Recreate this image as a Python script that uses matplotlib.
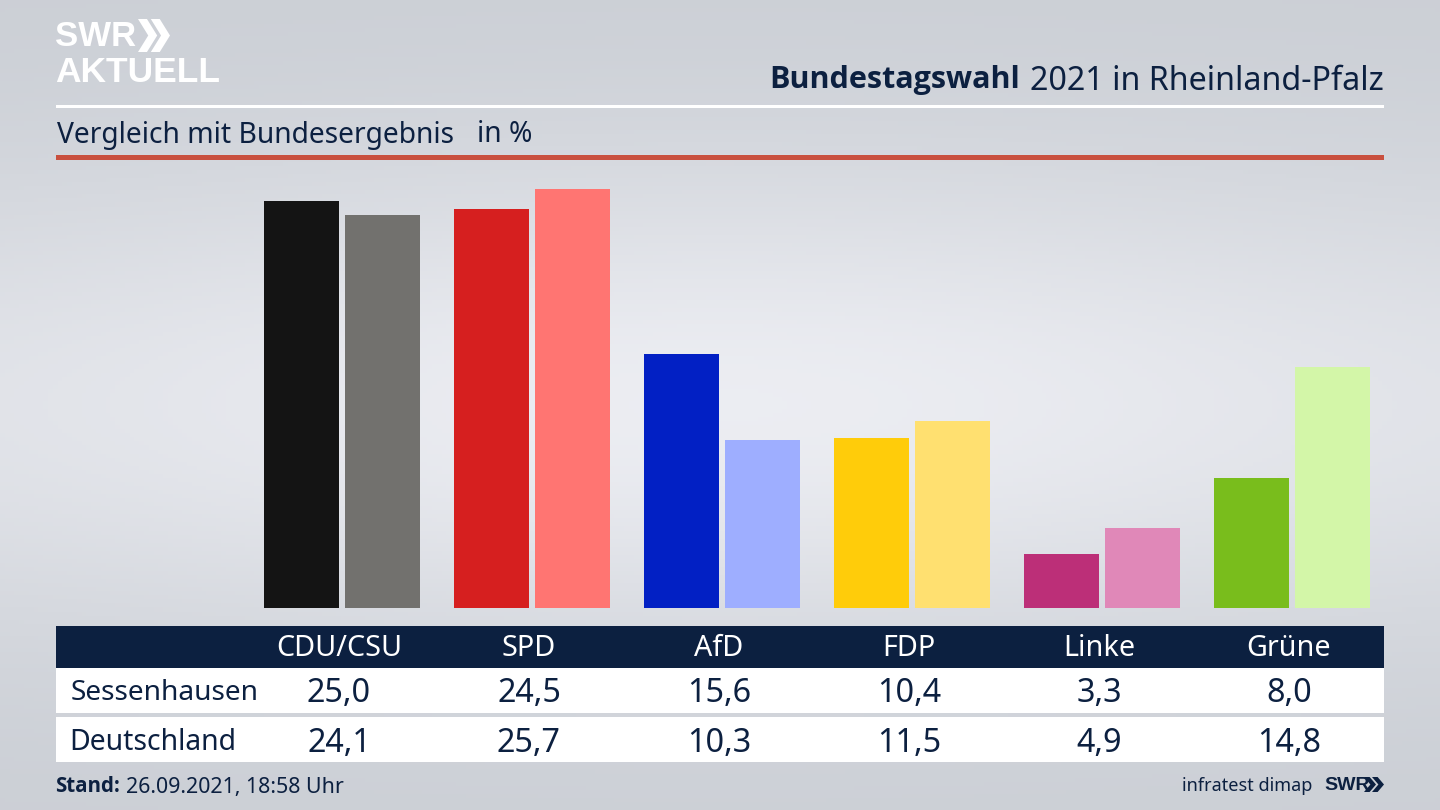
import matplotlib
matplotlib.use("Agg")
import matplotlib.pyplot as plt
import numpy as np
from matplotlib.patches import Rectangle, Polygon

plt.rcParams["font.family"] = ["Noto Sans", "DejaVu Sans"]

parties = ["CDU/CSU", "SPD", "AfD", "FDP", "Linke", "Grüne"]
sessenhausen = [25.0, 24.5, 15.6, 10.4, 3.3, 8.0]
deutschland = [24.1, 25.7, 10.3, 11.5, 4.9, 14.8]
colors_local = ["#141414", "#d61f1f", "#0220c4", "#ffcc0a", "#bc2f78", "#79bd1c"]
colors_bund = ["#72716e", "#ff7572", "#9eaeff", "#ffe070", "#e088b8", "#d3f6a8"]
row_names = ["Sessenhausen", "Deutschland"]

NAVY = "#0c2040"
BOLD = ["Open Sans", "DejaVu Sans"]
W, H = 1440, 810

fig = plt.figure(figsize=(14.4, 8.1), dpi=100)


# Hilfsfunktion: Pixel von oben links in Figure-Koordinaten
def px_text(x, y, s, size, **kw):
    kw.setdefault("color", NAVY)
    kw.setdefault("va", "center")
    return fig.text(x / W, 1 - y / H, s, fontsize=size, **kw)


def px_rect(x0, y0, x1, y1, color):
    fig.add_artist(Rectangle((x0 / W, 1 - y1 / H), (x1 - x0) / W, (y1 - y0) / H,
                             transform=fig.transFigure, color=color, lw=0))


def chevrons(x, y, w, h, color):
    # Doppelpfeil vom SWR-Logo
    for dx in (0, w * 0.4):
        pts = [(x + dx, y), (x + dx + w * 0.28, y), (x + dx + w * 0.6, y + h / 2),
               (x + dx + w * 0.28, y + h), (x + dx, y + h), (x + dx + w * 0.32, y + h / 2)]
        fig.add_artist(Polygon([(a / W, 1 - b / H) for a, b in pts],
                               transform=fig.transFigure, color=color, lw=0))


# Hintergrund
bg = fig.add_axes([0, 0, 1, 1], zorder=-1)
yy = np.linspace(0, 1, 200)[:, None]
xx = np.linspace(0, 1, 300)[None, :]
shade = np.exp(-((yy - 0.5) / 0.3) ** 2) * (0.55 + 0.45 * np.exp(-((xx - 0.5) / 0.45) ** 2))
top = np.array([0.795, 0.81, 0.835])
mid = np.array([0.925, 0.93, 0.95])
img = top[None, None, :] + shade[:, :, None] * (mid - top)[None, None, :]
bg.imshow(img, aspect="auto", extent=[0, 1, 0, 1])
bg.axis("off")

# Balken
ax = fig.add_axes([56 / W, 1 - 608 / H, (1384 - 56) / W, (608 - 160) / H])
ax.patch.set_alpha(0)
x = np.arange(len(parties))
ax.bar(x - 0.213, sessenhausen, width=0.395, color=colors_local)
ax.bar(x + 0.213, deutschland, width=0.395, color=colors_bund)
ax.set_xlim((56 - 341.8) / 190, (1384 - 341.8) / 190)
ax.set_ylim(0, 448 / 16.3)
ax.axis("off")

# Kopf
px_text(1384, 81, "2021 in Rheinland-Pfalz", 23.2, ha="right")
px_text(1020, 80, "Bundestagswahl", 22, ha="right", fontweight="bold", family=BOLD)
px_rect(56, 105, 1384, 108, "white")
px_text(57, 135, "Vergleich mit Bundesergebnis", 20.3)
px_text(477, 135, "in %", 20.3)
px_rect(56, 155, 1384, 160, "#c9503f")

# Logo
px_text(55, 37, "SWR", 25, color="white", fontweight="bold", family="Liberation Sans")
px_text(55, 73, "AKTUELL", 25.5, color="white", fontweight="bold", family="Liberation Sans")
chevrons(138, 19, 32, 33, "white")

# Tabelle
px_rect(56, 626, 1384, 668, NAVY)
px_rect(56, 668, 1384, 713, "white")
px_rect(56, 717, 1384, 762, "white")
for i, name in enumerate(parties):
    cx = 339 + 190 * i
    px_text(cx, 649, name, 20.7, color="white", ha="center")
    px_text(cx, 694, f"{sessenhausen[i]:.1f}".replace(".", ","), 23.3, ha="center")
    px_text(cx, 743, f"{deutschland[i]:.1f}".replace(".", ","), 23.3, ha="center")
px_text(71, 693, row_names[0], 20.2)
px_text(69.5, 742, row_names[1], 20.4)

# Fuss
px_text(55, 786, "Stand:", 14.8, fontweight="bold", family=BOLD)
px_text(126, 787, "26.09.2021, 18:58 Uhr", 15.4)
px_text(1312, 786, "infratest dimap", 13, ha="right")
px_text(1324, 785, "SWR", 14, fontweight="bold", family="Liberation Sans")
chevrons(1364, 777, 20, 15, NAVY)

fig.savefig("out.png", dpi=100)
